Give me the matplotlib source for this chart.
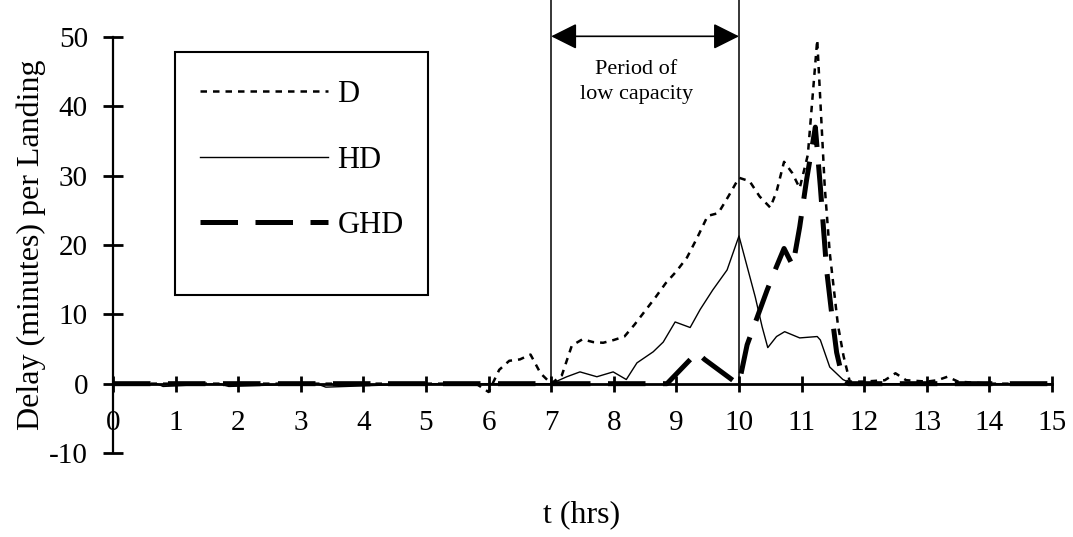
import matplotlib.pyplot as plt
from matplotlib.patches import Rectangle

plt.rcParams['font.family'] = ['Liberation Serif', 'DejaVu Serif']
plt.rcParams['axes.unicode_minus'] = False

# time (hrs) and delay (minutes) per landing
t_d = [0, 5.8, 6.0, 6.17, 6.33, 6.5, 6.67, 6.83, 7.0, 7.17, 7.33, 7.5, 7.67, 7.83,
       8.0, 8.17, 8.33, 8.5, 8.67, 8.83, 9.0, 9.17, 9.33, 9.5, 9.67, 9.83, 10.0,
       10.17, 10.33, 10.5, 10.6, 10.72, 10.85, 10.97, 11.1, 11.25, 11.37, 11.45,
       11.58, 11.67, 11.77, 12.0, 12.33, 12.5, 12.67, 13.0, 13.17, 13.33, 13.5, 14.0, 15.0]
d = [0, 0, -1.2, 2.0, 3.3, 3.5, 4.2, 1.5, 0, 1.2, 5.5, 6.4, 6.0, 5.9,
     6.3, 6.8, 8.5, 10.5, 12.5, 14.5, 16.2, 18.2, 21.0, 24.2, 24.6, 27.0, 29.7,
     29.2, 27.0, 25.4, 27.7, 32.0, 30.4, 28.2, 33.0, 49.6, 28.4, 18.9,
     8.5, 4.0, 0.3, 0.3, 0.5, 1.5, 0.5, 0.3, 0.5, 1.0, 0.3, 0, 0]

t_hd = [0, 0.7, 0.8, 1.7, 1.85, 3.25, 3.4, 5.0, 6.5, 7.0, 7.25, 7.46, 7.73, 7.99,
        8.2, 8.37, 8.63, 8.79, 8.98, 9.22, 9.38, 9.58, 9.81, 10.0, 10.13, 10.26,
        10.37, 10.46, 10.6, 10.73, 10.97, 11.25, 11.3, 11.45, 11.66, 11.8, 15.0]
hd = [0, 0, -0.4, 0, -0.4, 0, -0.5, 0, 0, 0, 1.0, 1.7, 1.0, 1.7,
      0.6, 3.0, 4.6, 6.0, 8.9, 8.1, 10.7, 13.5, 16.4, 21.3, 16.9, 12.5,
      8.2, 5.2, 6.8, 7.5, 6.6, 6.8, 6.3, 2.4, 0.6, 0, 0]

t_ghd = [0, 8.85, 9.33, 9.45, 9.9, 10.0, 10.13, 10.45, 10.6, 10.72, 10.86,
         10.97, 11.08, 11.22, 11.3, 11.4, 11.48, 11.56, 11.66, 11.75, 15.0]
ghd = [0, 0, 4.5, 3.5, 0.5, 0, 5.6, 13.5, 16.9, 19.5, 17.0,
       22.6, 29.4, 37.0, 28.4, 16.4, 10.2, 4.5, 0.6, 0, 0]

period_start, period_end = 7, 10
x_ticks = list(range(0, 16))
y_ticks = list(range(-10, 51, 10))

fig = plt.figure(figsize=(10.73, 5.37), dpi=100)
ax = fig.add_axes([0.1053, 0.1564, 0.8751, 0.7747])

ax.plot(t_d, d, color='black', lw=1.8, dashes=(2.6, 2.4), label='D', zorder=3)
ax.plot(t_hd, hd, color='black', lw=1.0, label='HD', zorder=3)
ax.plot(t_ghd, ghd, color='black', lw=3.6, dashes=(7.5, 3.5), label='GHD', zorder=3)

for xv in (period_start, period_end):
    ax.plot([xv, xv], [0, 55.5], color='black', lw=1.1, clip_on=False, zorder=2)

ax.annotate('', xy=(period_end, 50.1), xytext=(period_start, 50.1),
            annotation_clip=False,
            arrowprops=dict(arrowstyle='<|-|>', color='black', lw=1.2,
                            mutation_scale=40, shrinkA=0, shrinkB=0))
ax.text(8.36, 43.5, 'Period of\nlow capacity', ha='center', va='center',
        fontsize=16, linespacing=1.45)

ax.set_xlim(0, 15)
ax.set_ylim(-10, 50)
ax.set_xticks(x_ticks)
ax.set_yticks(y_ticks)

for s in ('top', 'right'):
    ax.spines[s].set_visible(False)
ax.spines['left'].set_position(('data', 0))
ax.spines['bottom'].set_position(('data', 0))
ax.spines['left'].set_linewidth(1.6)
ax.spines['bottom'].set_linewidth(2.0)

ax.tick_params(axis='y', direction='inout', length=14, width=2, pad=11, labelsize=21)
ax.tick_params(axis='x', direction='inout', length=12, width=2, pad=13, labelsize=21)

ax.set_ylabel('Delay (minutes) per Landing', fontsize=23, labelpad=2)
fig.text(582 / 1073, 1 - 515 / 537, 't (hrs)', ha='center', va='center', fontsize=23)

# legend box
ax.add_patch(Rectangle((0.066, 0.380), 0.2695, 0.584, transform=ax.transAxes,
                       fill=False, edgecolor='black', lw=1.5, clip_on=False))
ax.legend(loc='upper left', bbox_to_anchor=(0.0927, 0.897), fontsize=22,
          frameon=False, handlelength=4.2, handletextpad=0.3, labelspacing=1.2,
          borderpad=0, borderaxespad=0)

fig.savefig('out.png', dpi=100)
